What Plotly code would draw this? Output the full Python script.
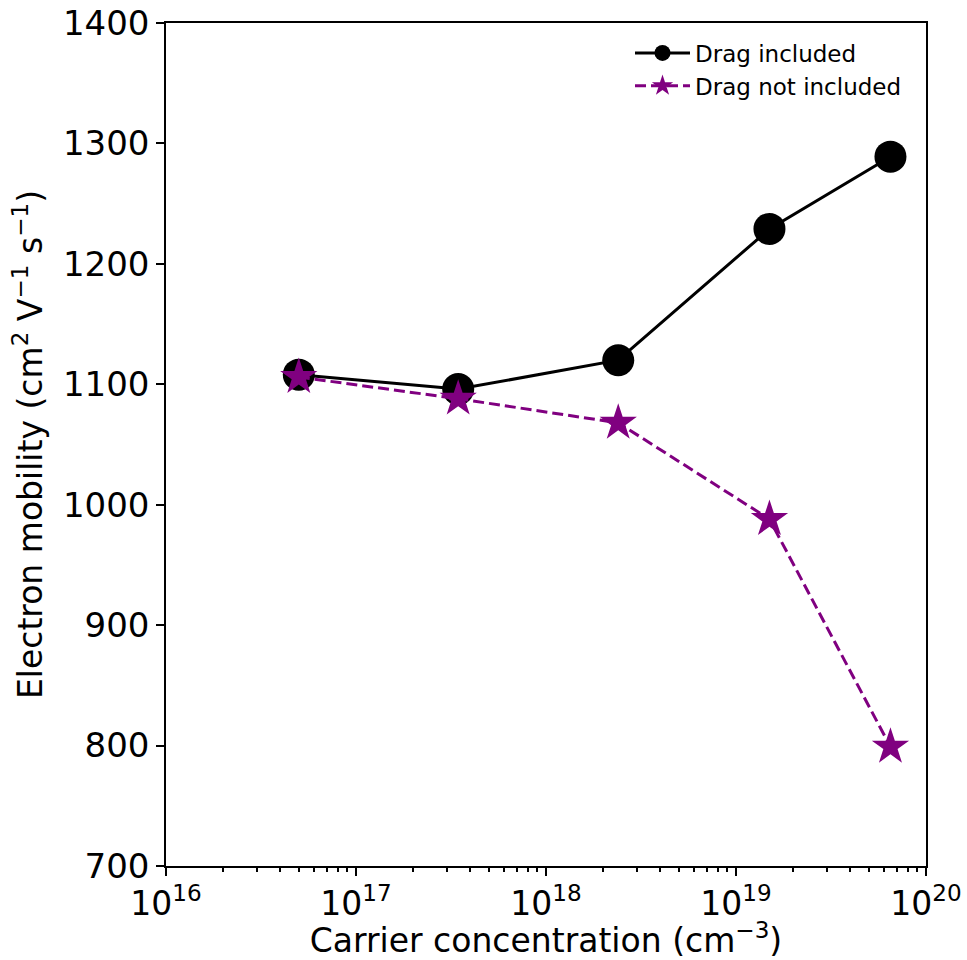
import plotly.graph_objects as go

carrier = [5.0e16, 3.45e17, 2.4e18, 1.5e19, 6.5e19]
drag_included = [1108, 1096, 1120, 1229, 1289]
drag_not_included = [1106, 1088, 1068, 988, 799]

xtick_vals = [1e16, 1e17, 1e18, 1e19, 1e20]
xtick_text = ["10<sup>16</sup>", "10<sup>17</sup>", "10<sup>18</sup>", "10<sup>19</sup>", "10<sup>20</sup>"]

fig = go.Figure()
fig.add_trace(go.Scatter(
    x=carrier, y=drag_included, mode="lines+markers", name="Drag included",
    line=dict(color="black", width=3),
    marker=dict(symbol="circle", size=32, color="black"),
))
fig.add_trace(go.Scatter(
    x=carrier, y=drag_not_included, mode="lines+markers", name="Drag not included",
    line=dict(color="purple", width=3, dash="11px,5px"),
    marker=dict(symbol="star", size=28, color="purple"),
))

font = "DejaVu Sans"
fig.update_layout(
    width=967, height=960,
    margin=dict(l=166, r=41, t=23, b=94, autoexpand=False),
    plot_bgcolor="white", paper_bgcolor="white",
    font=dict(family=font, color="black"),
    showlegend=True,
    legend=dict(x=0.975, y=0.99, xanchor="right", yanchor="top",
                bgcolor="rgba(255,255,255,0)", font=dict(size=23, family=font),
                itemwidth=55, tracegroupgap=4),
)
fig.update_xaxes(
    type="log", range=[16, 20],
    tickvals=xtick_vals, ticktext=xtick_text,
    ticks="outside", ticklen=8, tickwidth=1.5, tickcolor="black",
    tickfont=dict(size=33, family=font),
    minor=dict(ticks="outside", ticklen=4, tickcolor="black", dtick="D1", showgrid=False),
    showline=True, linecolor="black", linewidth=1.5, mirror=True,
    showgrid=False, zeroline=False, automargin=False,
    title=dict(text="Carrier concentration (cm<sup>−3</sup>)", font=dict(size=33, family=font), standoff=12),
)
fig.update_yaxes(
    range=[700, 1400], dtick=100,
    ticks="outside", ticklen=8, tickwidth=1.5, tickcolor="black",
    tickfont=dict(size=34, family=font),
    showline=True, linecolor="black", linewidth=1.5, mirror=True,
    showgrid=False, zeroline=False, automargin=False,
    title=dict(text="Electron mobility (cm<sup>2</sup> V<sup>−1</sup> s<sup>−1</sup>)", font=dict(size=33, family=font), standoff=10),
)
fig.write_html("out.html")
